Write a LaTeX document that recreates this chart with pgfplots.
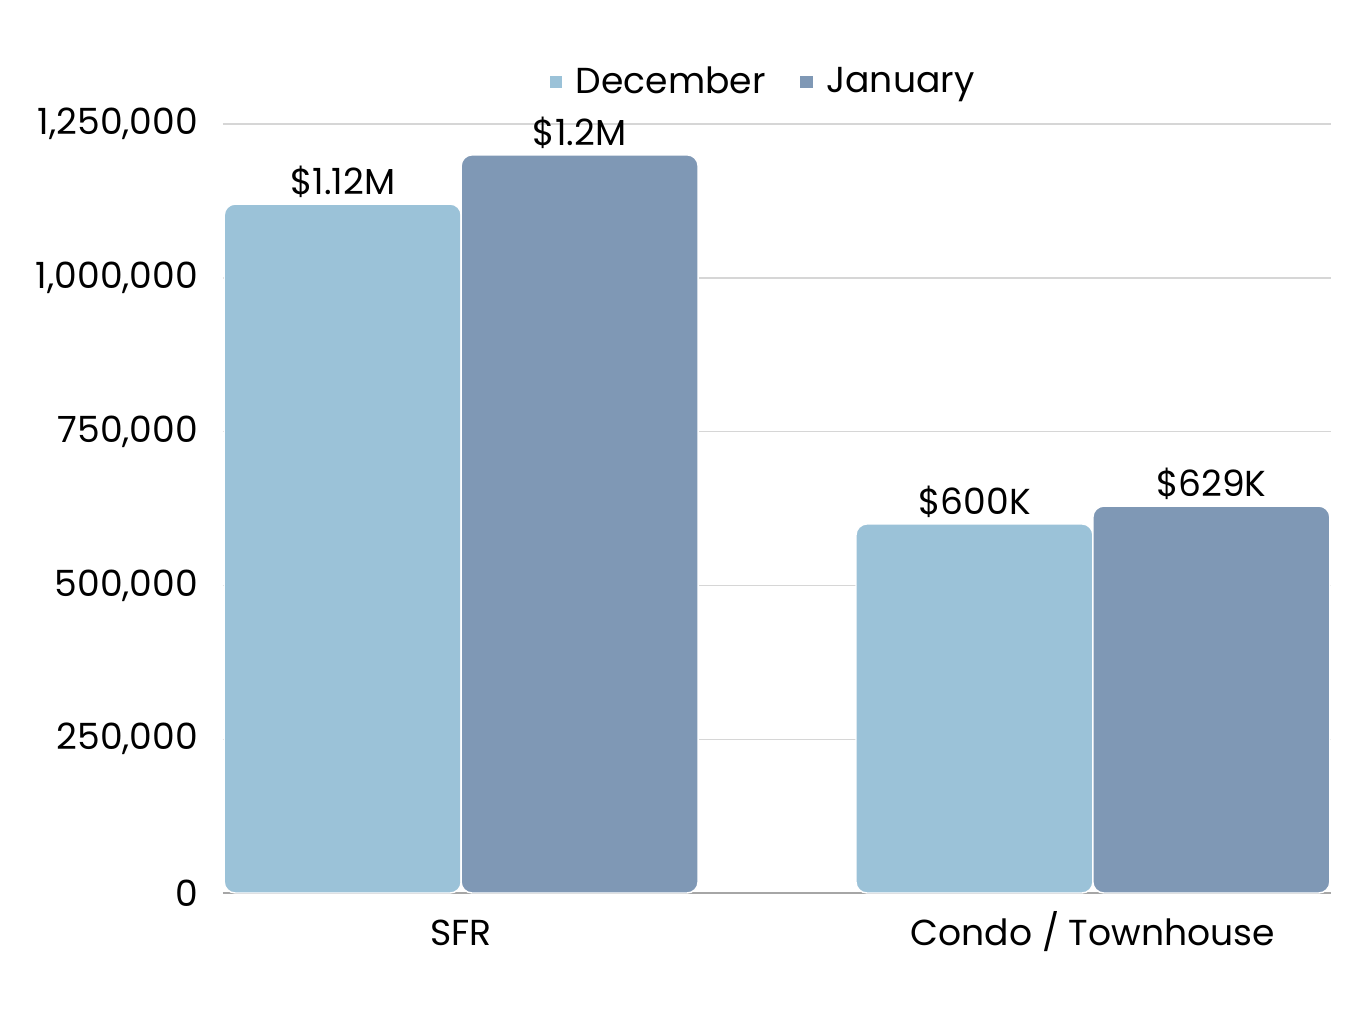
\documentclass[border=0pt]{standalone}
\usepackage{pgfplots}
\pgfplotsset{compat=1.18}
\usepackage{fontspec}
\setmainfont{Poppins}
\definecolor{dec}{HTML}{9BC2D8}
\definecolor{jan}{HTML}{7F98B5}
\definecolor{gridc}{HTML}{D6D6D6}
\begin{document}
\begin{tikzpicture}[x=1pt,y=1pt]
\useasboundingbox (-80.28,-43.2) rectangle (405.72,321.48);
\begin{axis}[
  at={(0,0)}, anchor=south west,
  scale only axis, width=398.9pt, height=276.8pt,
  font=\fontsize{13}{15}\selectfont,
  ybar=0pt, bar width=0.375,
  xmin=-0.377, xmax=1.377, ymin=0, ymax=1250000,
  xtick=data, xticklabels={SFR, Condo / Townhouse},
  ytick={0,250000,500000,750000,1000000,1250000},
  scaled y ticks=false,
  /pgf/number format/.cd, fixed, precision=0, 1000 sep={,}, assume math mode=true,
  /pgfplots/.cd,
  major tick length=0pt,
  xticklabel style={anchor=base, yshift=-19pt},
  yticklabel style={xshift=-5.5pt},
  axis x line*=bottom, axis y line*=left,
  y axis line style={draw=none},
  x axis line style={draw=gray!70, line width=0.6pt, -},
  ymajorgrids, grid style={gridc, line width=0.5pt},
  point meta=explicit symbolic,
  nodes near coords,
  every node near coord/.append style={font=\fontsize{13}{15}\selectfont, black, inner sep=2pt},
  legend style={at={(0.489,1.055)}, anchor=center, draw=none, fill=none,
    legend columns=-1, font=\fontsize{13}{15}\selectfont,
    /tikz/every odd column/.append style={column sep=3pt},
    /tikz/every even column/.append style={column sep=10.5pt}},
  legend image code/.code={\fill[#1,draw=none,rounded corners=0pt] (0pt,-2.2pt) rectangle (4.4pt,2.2pt);},
]
\addplot[fill=dec, draw=white, line width=0.5pt, rounded corners=4pt]
  coordinates {(0,1120000) [\$1.12M] (1,600000) [\$600K]};
\addplot[fill=jan, draw=white, line width=0.5pt, rounded corners=4pt]
  coordinates {(0,1200000) [\$1.2M] (1,629000) [\$629K]};
\legend{December, January}
\end{axis}
\end{tikzpicture}
\end{document}
